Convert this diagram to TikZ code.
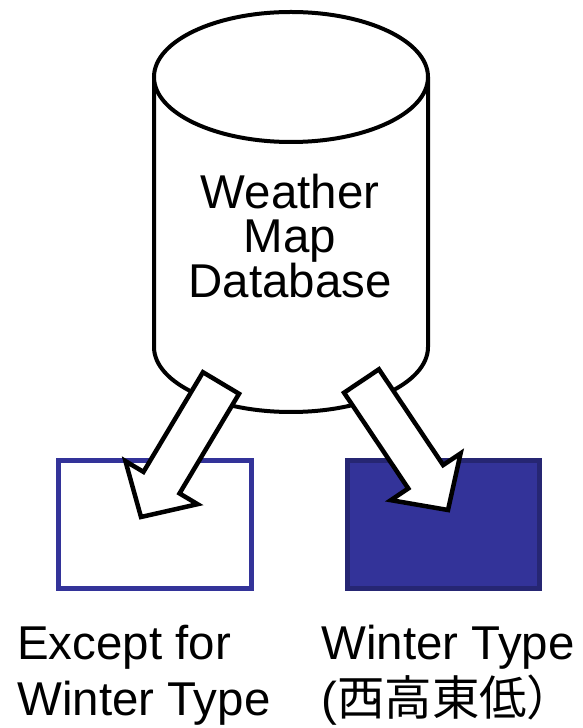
\documentclass[tikz,border=0pt]{standalone}
\usepackage{fontspec}
\setmainfont{Liberation Sans}
\newfontfamily\cjk{Noto Sans CJK JP}
\usetikzlibrary{calc}

\definecolor{boxblue}{HTML}{333399}
\definecolor{boxdark}{HTML}{262673}

\tikzset{
  dbline/.style={line width=0.08cm, fill=white},
  typebox/.style={draw=boxblue, line width=0.1cm, inner sep=0pt,
    minimum width=3.84cm, minimum height=2.56cm},
  fatarrow/.style={line width=0.09cm, fill=white, line join=miter},
  caption/.style={align=left, inner sep=0pt, font=\fontsize{27}{31.5}\selectfont},
}

\begin{document}
\begin{tikzpicture}[x=0.2mm, y=0.2mm]

        \useasboundingbox (0,0) rectangle (582,728);

        % cilindro da base de dados
        \draw[dbline] (154,651) -- (154,381)
            arc[start angle=180, end angle=360, x radius=2.74cm, y radius=1.3cm] -- (428,651);
        \draw[dbline] (291,651) ellipse[x radius=2.74cm, y radius=1.3cm];
        \node[align=center, inner sep=0pt, anchor=base, font=\fontsize{27}{25}\selectfont]
            (db) at (290,430) {Weather\\Map\\Database};

        % as duas caixas
        \node[typebox] (other) at (155,203.5) {};
        \node[typebox, fill=boxblue, draw=boxdark] (winter) at (443.5,203.5) {};

        % pontas das setas
        \coordinate (tailL) at (221,345);
        \coordinate (tipL) at (141,211);
        \coordinate (tailR) at (361.5,347);
        \coordinate (tipR) at (448,218);

        \foreach \a/\b in {tailL/tipL, tailR/tipR}{
            \coordinate (base) at ($(\b)!0.8cm!(\a)$);
            \draw[fatarrow] ($(\a)!0.42cm!90:(\b)$) -- ($(base)!0.42cm!90:(\b)$)
                -- ($(base)!0.84cm!90:(\b)$) -- (\b) -- ($(base)!0.84cm!-90:(\b)$)
                -- ($(base)!0.42cm!-90:(\b)$) -- ($(\a)!0.42cm!-90:(\b)$) -- cycle;
        }

        % legendas
        \node[caption, anchor=base west] (otherlabel) at (17,13) {Except for\\Winter Type};
        \node[caption, anchor=base west] (winterlabel) at (321,13) {Winter Type\\({\cjk 西高東低）}};

    \end{tikzpicture}
\end{document}
